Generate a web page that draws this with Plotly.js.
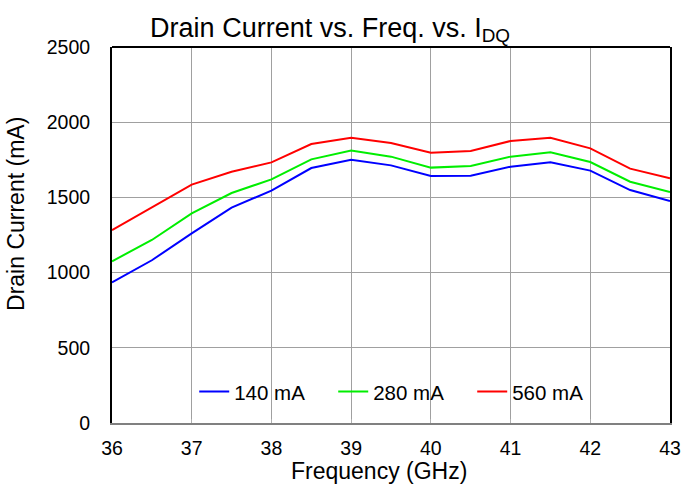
<!DOCTYPE html>
<html>
<head>
<meta charset="utf-8">
<script src="https://cdn.plot.ly/plotly-3.0.1.min.js"></script>
<style>html,body{margin:0;padding:0;background:#fff;}#chart{width:682px;height:485px;}</style>
</head>
<body>
<div id="chart"></div>
<script>
const freq = [36, 36.5, 37, 37.5, 38, 38.5, 39, 39.5, 40, 40.5, 41, 41.5, 42, 42.5, 43];
const seriesNames = ["140 mA", "280 mA", "560 mA"];
const current140 = [935, 1082, 1261, 1432, 1545, 1695, 1751, 1713, 1642, 1644, 1704, 1733, 1678, 1549, 1476];
const current280 = [1075, 1217, 1394, 1529, 1620, 1753, 1811, 1771, 1698, 1709, 1771, 1800, 1735, 1604, 1536];
const current560 = [1283, 1432, 1585, 1671, 1733, 1855, 1897, 1862, 1797, 1808, 1875, 1897, 1826, 1691, 1627];
const colors = ["#0000ff", "#00ee00", "#ff0000"];
const allSeries = [current140, current280, current560];
const xTitle = "Frequency (GHz)";
const yTitle = "Drain Current (mA)";

const traces = allSeries.map((ys, i) => ({
  x: freq, y: ys, type: "scatter", mode: "lines", name: seriesNames[i],
  line: {color: colors[i], width: 2}
}));

const fontFam = "Liberation Sans, Arial, sans-serif";
const layout = {
  width: 682, height: 485,
  margin: {l: 112, r: 12, t: 47, b: 62},
  paper_bgcolor: "#fff", plot_bgcolor: "#fff",
  font: {family: fontFam, size: 19.5, color: "#000"},
  title: {text: "Drain Current vs. Freq. vs. I<sub>DQ</sub>", font: {size: 27, family: fontFam}, x: 0.484, xref: "container", xanchor: "center", y: 0.944, yref: "container", yanchor: "middle"},
  xaxis: {
    range: [36, 43], dtick: 1, tick0: 36,
    showgrid: true, gridcolor: "#a0a0a0", gridwidth: 1,
    showline: true, linecolor: "#808080", linewidth: 2,
    ticks: "inside", ticklen: 4, tickcolor: "#b0b0b0", ticklabelstandoff: 7,
    tickfont: {size: 19.5}, zeroline: false
  },
  yaxis: {
    range: [0, 2500], dtick: 500,
    showgrid: true, gridcolor: "#a0a0a0", gridwidth: 1,
    showline: true, linecolor: "#000", linewidth: 2, mirror: true,
    ticks: "", ticklabelstandoff: 16,
    tickfont: {size: 19.5}, zeroline: false
  },
  annotations: [
    {text: xTitle, xref: "paper", yref: "paper", x: 0.4776, y: -0.1277, xanchor: "center", yanchor: "middle", showarrow: false, font: {size: 23}},
    {text: yTitle, xref: "paper", yref: "paper", x: -0.172, y: 0.556, xanchor: "center", yanchor: "middle", textangle: -90, showarrow: false, font: {size: 23}}
  ],
  shapes: [{type: "line", xref: "paper", yref: "paper", x0: 0, x1: 1, y0: 1, y1: 1, line: {color: "#000", width: 2}}],
  legend: {orientation: "h", x: 0.521, xanchor: "center", y: 0.083, yanchor: "middle",
    font: {size: 20.5}, bgcolor: "rgba(0,0,0,0)", entrywidth: 94, itemwidth: 30},
  showlegend: true
};

Plotly.newPlot("chart", traces, layout, {displayModeBar: false, staticPlot: true});
</script>
</body>
</html>
